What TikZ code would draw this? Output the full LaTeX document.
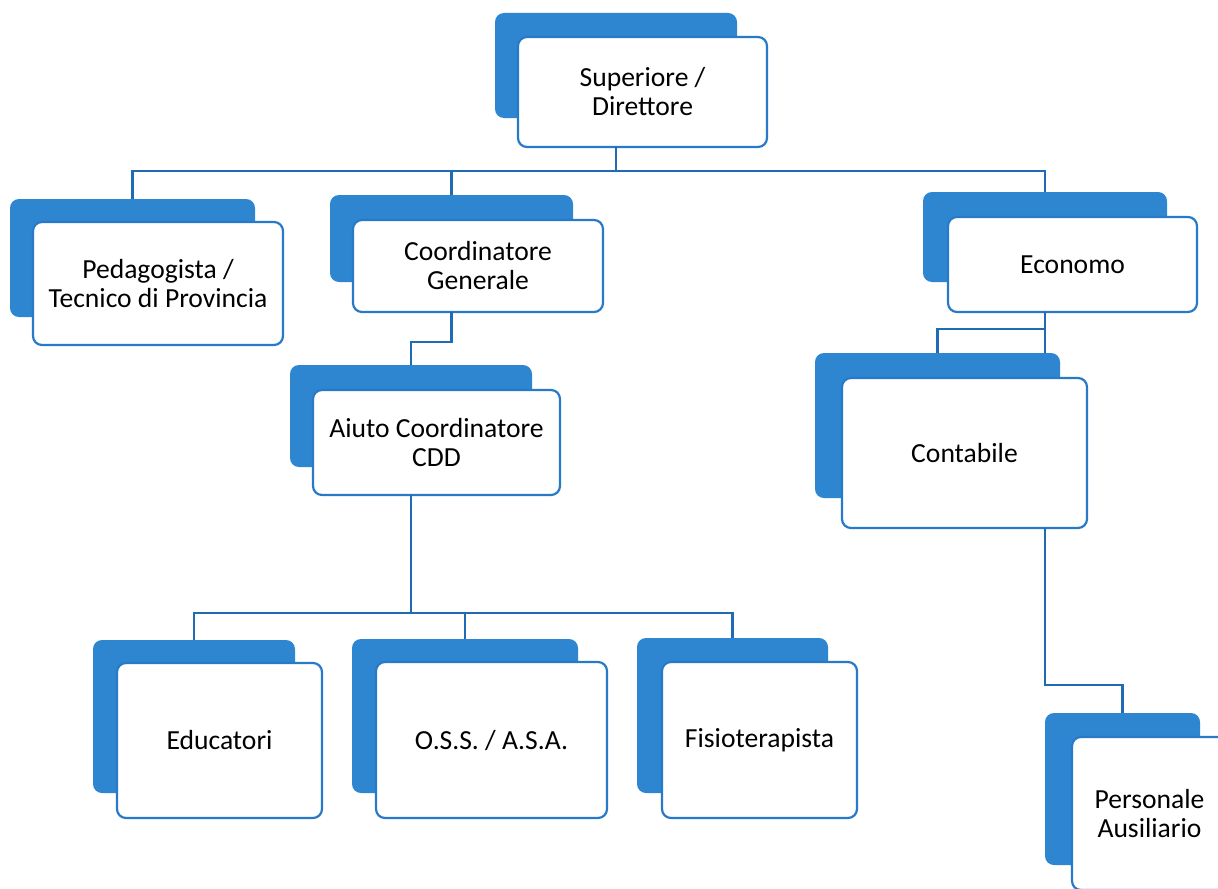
\documentclass[tikz,border=0pt]{standalone}
\usepackage{fontspec}
\setmainfont{Carlito}
\definecolor{bblue}{RGB}{46,134,208}
\definecolor{fblue}{RGB}{40,122,200}
\definecolor{lblue}{RGB}{32,108,180}
\tikzset{
  sz/.style 2 args={minimum width={#1*0.5pt}, minimum height={#2*0.5pt}},
  backbox/.style={fill=bblue, rounded corners=4.5pt, inner sep=0pt, outer sep=0pt},
  frontbox/.style={fill=white, draw=fblue, line width=1.1pt, rounded corners=4.5pt,
    inner sep=0pt, outer sep=0pt, align=center, font=\fontsize{13.8}{14.5}\selectfont},
  conn/.style={draw=lblue, line width=1.3pt}
}
\begin{document}
\begin{tikzpicture}[x=0.5pt, y=-0.5pt]
\useasboundingbox (0,0) rectangle (1218,888);
\clip (0,0) rectangle (1218,888);
\fill[white] (0,0) rectangle (1218,888);

% boxes: back (blue) and front (white)
\node[backbox, sz={242}{105}] (supb) at (616,65.5) {};
\node[frontbox, sz={249}{110}] (sup) at (642.5,92) {Superiore /\\Direttore};

\node[backbox, sz={245}{118}] (pedb) at (132.5,258) {};
\node[frontbox, sz={250}{123}] (ped) at (158,283.5) {Pedagogista /\\Tecnico di Provincia};

\node[backbox, sz={243}{87}] (coordb) at (451.5,238.5) {};
\node[frontbox, sz={250}{92}] (coord) at (478,266) {Coordinatore\\Generale};

\node[backbox, sz={244}{90}] (ecob) at (1045,237) {};
\node[frontbox, sz={249}{95}] (eco) at (1072.5,264.5) {Economo};

\node[backbox, sz={242}{102}] (aiutob) at (411,416) {};
\node[frontbox, sz={247}{105}] (aiuto) at (436.5,442.5) {Aiuto Coordinatore\\CDD};

\node[backbox, sz={245}{145}] (contb) at (937.5,425.5) {};
\node[frontbox, sz={245}{150}] (cont) at (964.5,453) {Contabile};

\node[backbox, sz={202}{153}] (edub) at (194,716.5) {};
\node[frontbox, sz={205}{155}] (edu) at (219.5,740.5) {Educatori};

\node[backbox, sz={226}{154}] (ossb) at (465,716) {};
\node[frontbox, sz={231}{156}] (oss) at (491.5,740) {O.S.S. / A.S.A.};

\node[backbox, sz={191}{155}] (fisb) at (732.5,715.5) {};
\node[frontbox, sz={195}{156}] (fis) at (759.5,740) {Fisioterapista};

\node[backbox, sz={155}{152}] (persb) at (1122.5,789) {};
\node[frontbox, sz={155}{153}] (pers) at (1149.5,813.5) {Personale\\Ausiliario};

% connectors
\draw[conn] (supb.south |- sup.south) -- ++(0,24) coordinate (bus1);
\draw[conn] (pedb.north) |- (bus1) -| (ecob.north);
\draw[conn] (coordb.north) -- (coordb.north |- bus1);

\draw[conn] (coordb.south |- coord.south) -- ++(0,30) -| (aiutob.north);

\draw[conn] (aiutob.south |- aiuto.south) -- ++(0,118) coordinate (bus2);
\draw[conn] (edub.north) |- (bus2) -| (fisb.north);
\draw[conn] (ossb.north) -- (ossb.north |- bus2);

\draw[conn] (ecob.south |- eco.south) -- ++(0,17) coordinate (bus3) -- (ecob.south |- contb.north);
\draw[conn] (contb.north) |- (bus3);

\draw[conn] (ecob.south |- cont.south) -- ++(0,157) -| (persb.north);
\end{tikzpicture}
\end{document}
